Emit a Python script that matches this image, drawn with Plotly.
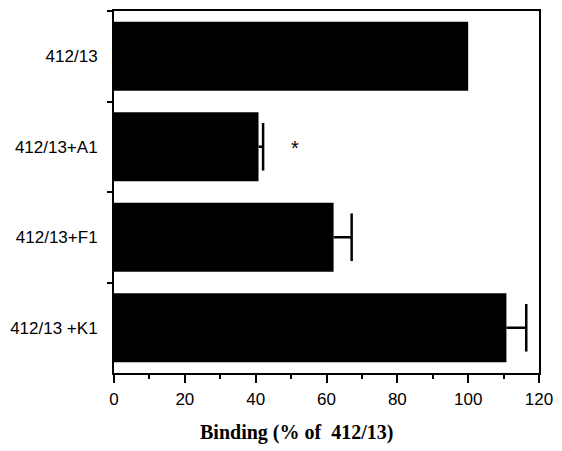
import plotly.graph_objects as go

categories = ["412/13", "412/13+A1", "412/13+F1", "412/13 +K1"]
binding = [100, 40.8, 62, 110.8]
error_plus = [0, 1.3, 5.1, 5.6]
xticks = [0, 20, 40, 60, 80, 100, 120]
star_x = 51
star_cat = "412/13+A1"

fig = go.Figure()
fig.add_trace(go.Bar(
    x=binding, y=categories, orientation="h",
    marker=dict(color="black", line=dict(width=0)),
    width=0.76,
))

# one-sided error bars: stems and caps built from the data arrays
stem_x, stem_y, cap_x, cap_y = [], [], [], []
for c, v, e in zip(categories, binding, error_plus):
    if e > 0:
        stem_x += [v, v + e, None]
        stem_y += [c, c, None]
        cap_x.append(v + e)
        cap_y.append(c)
fig.add_trace(go.Scatter(x=stem_x, y=stem_y, mode="lines",
                         line=dict(color="black", width=2.5), hoverinfo="skip"))
fig.add_trace(go.Scatter(x=cap_x, y=cap_y, mode="markers",
                         marker=dict(symbol="line-ns", size=34, color="black",
                                     line=dict(color="black", width=2.5)),
                         hoverinfo="skip"))

fig.add_annotation(x=star_x, y=star_cat, xref="x", yref="y", text="*",
                   showarrow=False, font=dict(family="Liberation Sans", size=20, color="black"),
                   yshift=-1)

fig.add_annotation(x=0.429, y=-0.165, xref="paper", yref="paper",
                   text="<b>Binding (% of \u00a0412/13)</b>", showarrow=False,
                   xanchor="center", yanchor="middle",
                   font=dict(family="Liberation Serif", size=20, color="black"))

fig.update_layout(
    width=562, height=451,
    margin=dict(l=114, r=19, t=9, b=78),
    plot_bgcolor="white", paper_bgcolor="white",
    showlegend=False,
    bargap=0.24,
)
fig.update_xaxes(
    range=[0, 120], tickvals=xticks, ticktext=[str(v) for v in xticks],
    ticks="outside", ticklen=8, tickwidth=2, tickcolor="black",
    minor=dict(dtick=10, tick0=0, ticks="outside", ticklen=4, tickwidth=2, tickcolor="black"),
    showline=True, linecolor="black", linewidth=2, mirror=True,
    showgrid=False, zeroline=False,
    tickfont=dict(family="Liberation Sans", size=17, color="black"),
    ticklabelstandoff=2,
)
fig.update_yaxes(
    autorange="reversed", tickson="boundaries",
    ticks="outside", ticklen=5, tickwidth=2, tickcolor="black",
    showline=True, linecolor="black", linewidth=2, mirror=True,
    showgrid=False, zeroline=False,
    tickfont=dict(family="Liberation Sans", size=17, color="black"),
    ticklabelstandoff=11,
)

fig.write_html("out.html")
